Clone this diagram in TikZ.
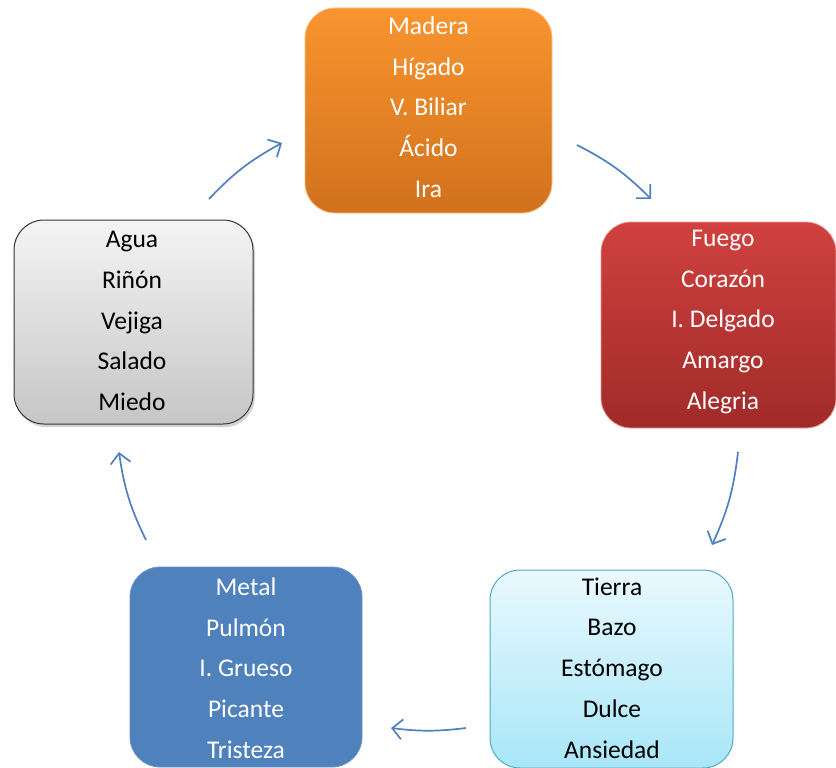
\documentclass[tikz,border=0pt]{standalone}
\usepackage{fontspec}
\setmainfont{Carlito}
\usetikzlibrary{arrows.meta,shadows}
\definecolor{arrowblue}{HTML}{4F81BD}
\definecolor{orTop}{HTML}{F8952F}
\definecolor{orBot}{HTML}{D2711D}
\definecolor{rdTop}{HTML}{D0413F}
\definecolor{rdBot}{HTML}{A02B29}
\definecolor{cyTop}{HTML}{E9F9FE}
\definecolor{cyBot}{HTML}{A8E6F8}
\definecolor{cyEdge}{HTML}{4BACC6}
\definecolor{mtFill}{HTML}{4F81BD}
\definecolor{grTop}{HTML}{F4F4F4}
\definecolor{grBot}{HTML}{C6C6C6}
\tikzset{
  elem/.style={rounded corners=30pt, inner sep=0pt},
  elemtext/.style={align=center, inner sep=0pt,
    font=\fontsize{25.5}{40.7}\selectfont},
  cyc/.style={draw=arrowblue, line width=1.7pt,
    -{Straight Barb[length=10pt,width=20pt,line width=1.7pt]}},
}
\begin{document}
\begin{tikzpicture}[x=1pt,y=-1pt]
\useasboundingbox (0,0) rectangle (836,768);
% Madera
\node[elem, minimum width=247pt, minimum height=205pt, top color=orTop, bottom color=orBot,
  draw=orTop!60!white, line width=0.8pt] (madera) at (428.5,110.5) {};
\node[elemtext, text=white] (maderaT) at (428.5,107) {Madera\\Hígado\\V. Biliar\\Ácido\\Ira};
% Fuego
\node[elem, minimum width=235pt, minimum height=206pt, top color=rdTop, bottom color=rdBot,
  draw=rdTop!50!white, line width=0.8pt] (fuego) at (718.5,325) {};
\node[elemtext, text=white] (fuegoT) at (723,322) {Fuego\\Corazón\\I. Delgado\\Amargo\\Alegria};
% Tierra
\node[elem, minimum width=243pt, minimum height=198pt, top color=cyTop, bottom color=cyBot,
  draw=cyEdge, line width=1pt] (tierra) at (611.5,669) {};
\node[elemtext, text=black] (tierraT) at (612,668) {Tierra\\Bazo\\Estómago\\Dulce\\Ansiedad};
% Metal
\node[elem, minimum width=232pt, minimum height=200pt, fill=mtFill,
  draw=mtFill!85!white, line width=0.8pt] (metal) at (246,667) {};
\node[elemtext, text=white] (metalT) at (246,668) {Metal\\Pulmón\\I. Grueso\\Picante\\Tristeza};
% Agua
\node[elem, minimum width=239pt, minimum height=204pt, top color=grTop, bottom color=grBot,
  draw=black!80, line width=1pt,
  drop shadow={opacity=0.35, shadow xshift=2pt, shadow yshift=-3pt}] (agua) at (133.5,322) {};
\node[elemtext, text=black] (aguaT) at (132,321) {Agua\\Riñón\\Vejiga\\Salado\\Miedo};
% arrow end points
\coordinate (a1s) at (209,199); \coordinate (a1e) at (282,143);
\coordinate (a2s) at (577,145); \coordinate (a2e) at (651,199);
\coordinate (a3s) at (738,452); \coordinate (a3e) at (712,545);
\coordinate (a4s) at (466,728); \coordinate (a4e) at (391,728);
\coordinate (a5s) at (146,540); \coordinate (a5e) at (119,452);
\draw[cyc] (a1s) to[bend left=9] (a1e);
\draw[cyc] (a2s) to[bend left=9] (a2e);
\draw[cyc] (a3s) to[bend left=9] (a3e);
\draw[cyc] (a4s) to[bend left=7] (a4e);
\draw[cyc] (a5s) to[bend left=9] (a5e);
\end{tikzpicture}
\end{document}
